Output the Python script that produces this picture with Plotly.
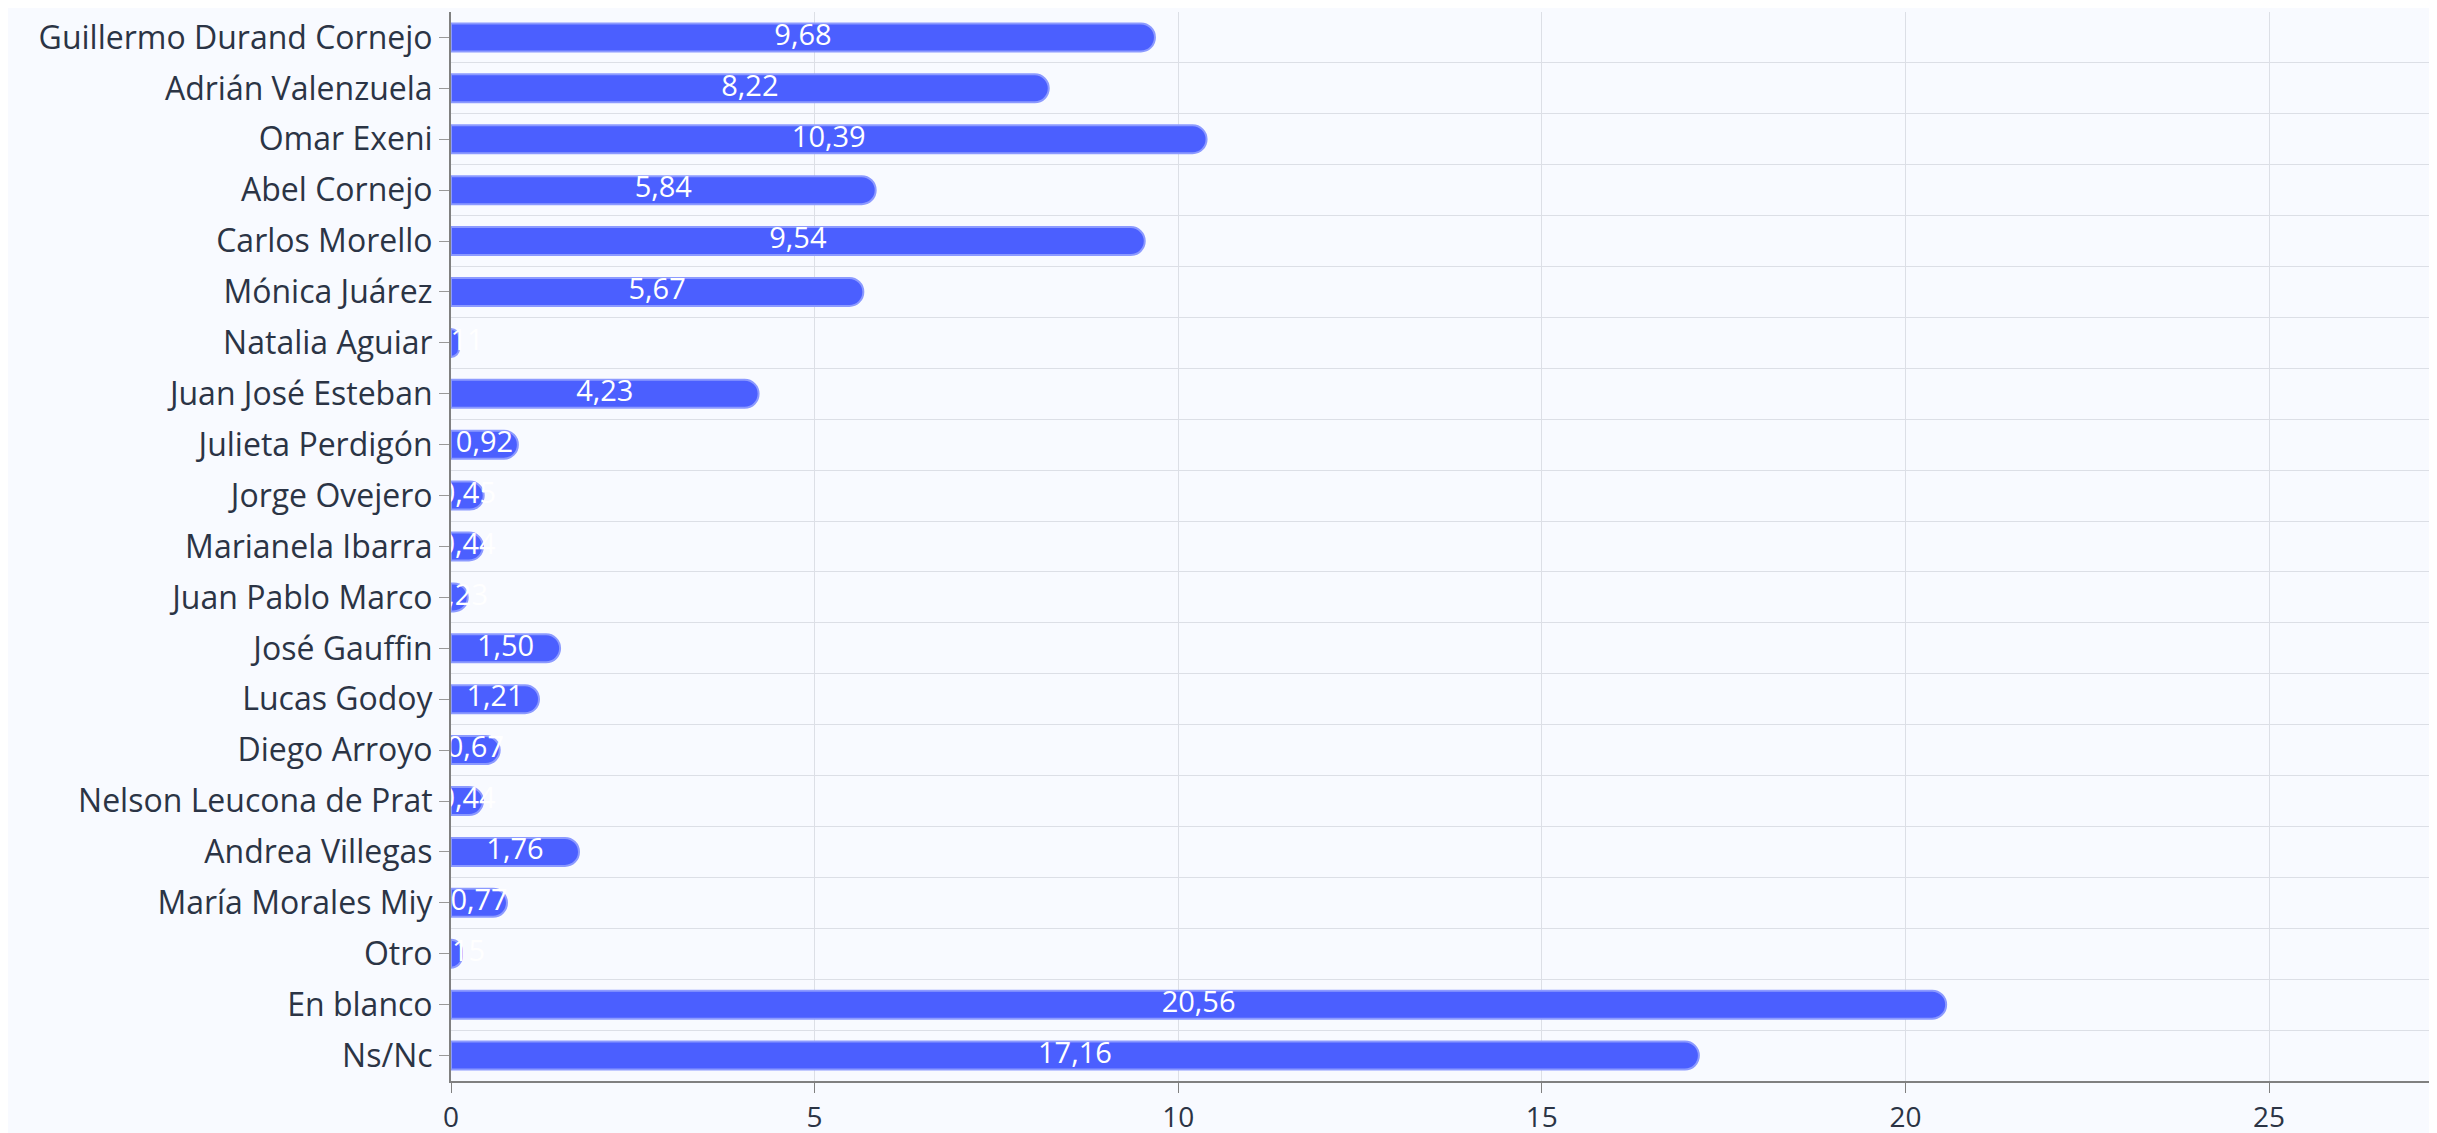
import plotly.graph_objects as go

categories = [
    "Guillermo Durand Cornejo", "Adrián Valenzuela", "Omar Exeni", "Abel Cornejo",
    "Carlos Morello", "Mónica Juárez", "Natalia Aguiar", "Juan José Esteban",
    "Julieta Perdigón", "Jorge Ovejero", "Marianela Ibarra", "Juan Pablo Marco",
    "José Gauffin", "Lucas Godoy", "Diego Arroyo", "Nelson Leucona de Prat",
    "Andrea Villegas", "María Morales Miy", "Otro", "En blanco", "Ns/Nc",
]
values = [
    9.68, 8.22, 10.39, 5.84, 9.54, 5.67, 0.11, 4.23, 0.92, 0.45, 0.44, 0.23,
    1.50, 1.21, 0.67, 0.44, 1.76, 0.77, 0.15, 20.56, 17.16,
]
x_ticks = [0, 5, 10, 15, 20, 25]

FONT = "Open Sans"
TEXT = "#2b3445"

labels = [f"{v:.2f}".replace(".", ",") for v in values]
mid = [v / 2 for v in values]
n = len(categories)
yrange = [n - 0.5, -0.5]

fig = go.Figure()
fig.add_trace(go.Bar(
    x=values, y=categories, orientation="h",
    marker=dict(color="#4b5fff", line=dict(color="#8c9aff", width=2), cornerradius=14),
    hoverinfo="x+y", showlegend=False,
))
# value labels centred in bars
fig.add_trace(go.Scatter(
    x=mid, y=categories, mode="text", text=labels,
    textposition="middle center",
    textfont=dict(color="white", size=29, family=FONT),
    hoverinfo="skip", showlegend=False, cliponaxis=True,
))
# invisible trace for boundary gridlines
fig.add_trace(go.Scatter(
    x=[0] * n, y=categories, yaxis="y2", mode="markers",
    marker=dict(opacity=0), hoverinfo="skip", showlegend=False,
))

fig.update_layout(
    width=2437, height=1133,
    paper_bgcolor="#f8faff", plot_bgcolor="#f8faff",
    margin=dict(l=443, r=16, t=4, b=60),
    separators=",.",
    bargap=0.45,
    font=dict(family=FONT, color=TEXT, size=30),
    xaxis=dict(
        range=[0, 27.2], tickvals=x_ticks, showgrid=True, gridcolor="#dcdfe6", gridwidth=1,
        zeroline=False, showline=True, linecolor="#808080", linewidth=2,
        ticks="outside", ticklen=10, tickcolor="#808080", tickwidth=1,
        tickfont=dict(size=28, color=TEXT, family=FONT),
    ),
    yaxis=dict(
        type="category", categoryorder="array", categoryarray=categories,
        range=yrange, showgrid=False, zeroline=False,
        showline=True, linecolor="#808080", linewidth=2,
        ticks="outside", ticklen=10, tickcolor="#999999",
        tickfont=dict(size=32, color=TEXT, family=FONT),
    ),
    yaxis2=dict(
        type="category", categoryorder="array", categoryarray=categories,
        range=yrange, overlaying="y", side="left",
        tickson="boundaries", showgrid=True, gridcolor="#dcdfe6", gridwidth=1,
        showticklabels=False, ticks="", showline=False, zeroline=False,
    ),
)
fig.write_html("out.html")
